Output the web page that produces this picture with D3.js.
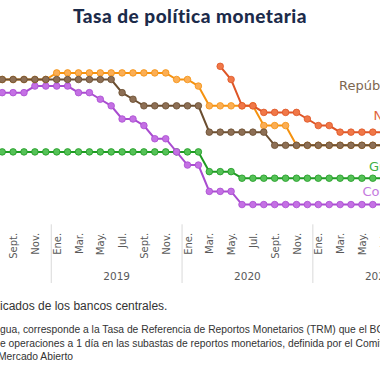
<!DOCTYPE html>
<html>
<head>
<meta charset="utf-8">
<script src="https://cdn.jsdelivr.net/npm/d3@7"></script>
<style>
  body { margin: 0; background: #fff; overflow: hidden; }
  svg { display: block; }
</style>
</head>
<body>
<svg id="chart" width="380" height="380"></svg>
<script>
// months from Jul. 2018 to Jul. 2021 (one value per month)
var periods = d3.timeMonths(new Date(2018, 6, 1), new Date(2021, 7, 1));
var monthNames = ["Ene.", "Feb.", "Mar.", "Abr.", "May.", "Jun.", "Jul.", "Ago.", "Sept.", "Oct.", "Nov.", "Dic."];
var yTicks = d3.range(0, 7.01, 0.5);

var guatemala = [2.75, 2.75, 2.75, 2.75, 2.75, 2.75, 2.75, 2.75, 2.75, 2.75, 2.75, 2.75, 2.75, 2.75, 2.75, 2.75, 2.75, 2.75, 2.75, 2.75,
  2.0, 2.0, 2.0, 1.75, 1.75, 1.75, 1.75, 1.75, 1.75, 1.75, 1.75, 1.75, 1.75, 1.75, 1.75, 1.75, 1.75];
var costaRica = [5.0, 5.0, 5.0, 5.0, 5.25, 5.25, 5.25, 5.25, 5.0, 5.0, 4.75, 4.5, 4.0, 4.0, 3.75, 3.25, 3.25, 2.75, 2.25, 2.25,
  1.25, 1.25, 1.25, 0.75, 0.75, 0.75, 0.75, 0.75, 0.75, 0.75, 0.75, 0.75, 0.75, 0.75, 0.75, 0.75, 0.75];
var honduras = [5.5, 5.5, 5.5, 5.5, 5.5, 5.5, 5.75, 5.75, 5.75, 5.75, 5.75, 5.75, 5.75, 5.75, 5.75, 5.75, 5.75, 5.5, 5.5, 5.25,
  4.5, 4.5, 4.5, 4.5, 4.5, 3.75, 3.75, 3.75, 3.0, 3.0, 3.0, 3.0, 3.0, 3.0, 3.0, 3.0, 3.0];
var repDominicana = [5.5, 5.5, 5.5, 5.5, 5.5, 5.5, 5.5, 5.5, 5.5, 5.5, 5.5, 5.5, 5.0, 4.75, 4.5, 4.5, 4.5, 4.5, 4.5, 4.5,
  3.5, 3.5, 3.5, 3.5, 3.5, 3.5, 3.0, 3.0, 3.0, 3.0, 3.0, 3.0, 3.0, 3.0, 3.0, 3.0, 3.0];
var nicaragua = [null, null, null, null, null, null, null, null, null, null, null, null, null, null, null, null, null, null, null, null,
  null, 6.0, 5.5, 4.5, 4.5, 4.25, 4.25, 4.25, 4.25, 4.0, 3.75, 3.75, 3.5, 3.5, 3.5, 3.5, 3.5];

// drawing order: later series sit on top
var series = [
  { name: "Guatemala", values: guatemala, line: "#1f9a23", fill: "#55c257", label: "#3fb043", lx: 369, ly: 171 },
  { name: "Costa Rica", values: costaRica, line: "#a94cd0", fill: "#c470e4", label: "#c47ade", lx: 362.5, ly: 196 },
  { name: "Honduras", values: honduras, line: "#f5920f", fill: "#fbae55", label: null },
  { name: "República Dominicana", values: repDominicana, line: "#6b4e30", fill: "#8d6f55", label: "#7d6650", lx: 339, ly: 89.5 },
  { name: "Nicaragua1/", values: nicaragua, line: "#de5526", fill: "#f07848", label: "#e0643a", lx: 373.5, ly: 119.5 }
];

var svg = d3.select("#chart");
var width = 380;

var x = d3.scaleLinear().domain([0, periods.length - 1]).range([-8.7, 383.7]);
var y = d3.scaleLinear().domain([0, 7]).range([224.3, 40]);

var font = "'DejaVu Sans', sans-serif";

svg.append("text")
  .attr("x", 190)
  .attr("y", 22.5)
  .attr("text-anchor", "middle")
  .style("font-family", "Lato, 'Noto Sans', sans-serif")
  .style("font-weight", "900")
  .style("font-size", "19px")
  .style("letter-spacing", "0.5px")
  .style("fill", "#1c2b4a")
  .text("Tasa de política monetaria");

// horizontal gridlines
var grid = svg.append("g")
  .call(d3.axisLeft(y).tickValues(yTicks).tickSize(-width - 20).tickFormat(""));
grid.attr("transform", "translate(" + (width + 10) + ",0)");
grid.select(".domain").remove();
grid.selectAll("line").attr("stroke", "#d9d9d9").attr("stroke-width", 1);

// month labels
var gx = svg.append("g")
  .attr("transform", "translate(0," + y(0) + ")")
  .call(d3.axisBottom(x)
    .tickValues(periods.map(function (d, i) { return i; }).filter(function (i) { return periods[i].getMonth() % 2 === 0; }))
    .tickFormat(function (i) { return monthNames[periods[i].getMonth()]; })
    .tickSize(0));
gx.select(".domain").remove();
gx.selectAll("text")
  .attr("transform", "rotate(-90)")
  .attr("text-anchor", "end")
  .attr("x", -8.5)
  .attr("y", 0)
  .attr("dy", "0.35em")
  .style("font-family", font)
  .style("font-size", "10px")
  .style("fill", "#595959");

// year separators and year labels
var januaries = periods.map(function (d, i) { return i; }).filter(function (i) { return periods[i].getMonth() === 0; });
svg.append("g").selectAll("line")
  .data(januaries)
  .enter()
  .append("line")
  .attr("x1", function (i) { return x(i - 0.5); })
  .attr("x2", function (i) { return x(i - 0.5); })
  .attr("y1", y(0))
  .attr("y2", 283)
  .attr("stroke", "#d9d9d9")
  .attr("stroke-width", 1);

svg.append("g").selectAll("text")
  .data(januaries)
  .enter()
  .append("text")
  .attr("x", function (i) { return x(i + 5.5); })
  .attr("y", 280)
  .attr("text-anchor", "middle")
  .style("font-family", font)
  .style("font-size", "10.5px")
  .style("fill", "#595959")
  .text(function (i) { return periods[i].getFullYear(); });

// series
var line = d3.line()
  .defined(function (d) { return d != null; })
  .x(function (d, i) { return x(i); })
  .y(function (d) { return y(d); });

series.forEach(function (s) {
  var g = svg.append("g");
  g.append("path")
    .datum(s.values)
    .attr("d", line)
    .attr("fill", "none")
    .attr("stroke", s.line)
    .attr("stroke-width", 2);
  g.selectAll("circle")
    .data(s.values.map(function (v, i) { return { v: v, i: i }; }).filter(function (d) { return d.v != null; }))
    .enter()
    .append("circle")
    .attr("cx", function (d) { return x(d.i); })
    .attr("cy", function (d) { return y(d.v); })
    .attr("r", 3.3)
    .attr("fill", s.fill)
    .attr("stroke", s.line)
    .attr("stroke-width", 0.8);
  if (s.label) {
    svg.append("text")
      .attr("x", s.lx)
      .attr("y", s.ly)
      .style("font-family", font)
      .style("font-size", "13px")
      .style("fill", s.label)
      .text(s.name);
  }
});

// source and notes
var notes = svg.append("g")
  .style("font-family", "'Liberation Sans', Arial, sans-serif")
  .style("fill", "#333");
notes.append("text").attr("x", 0).attr("y", 310).style("font-size", "12px")
  .text("icados de los bancos centrales.");
var noteLines = [
  "gua, corresponde a la Tasa de Referencia de Reportos Monetarios (TRM) que el BCN",
  "e operaciones a 1 día en las subastas de reportos monetarios, definida por el Comité",
  "Mercado Abierto"
];
notes.selectAll("text.note")
  .data(noteLines)
  .enter()
  .append("text")
  .attr("class", "note")
  .attr("x", function (d, i) { return i === 2 ? -2 : 0; })
  .attr("y", function (d, i) { return 333 + i * 13.5; })
  .style("font-size", "10.3px")
  .text(function (d) { return d; });
</script>
</body>
</html>
